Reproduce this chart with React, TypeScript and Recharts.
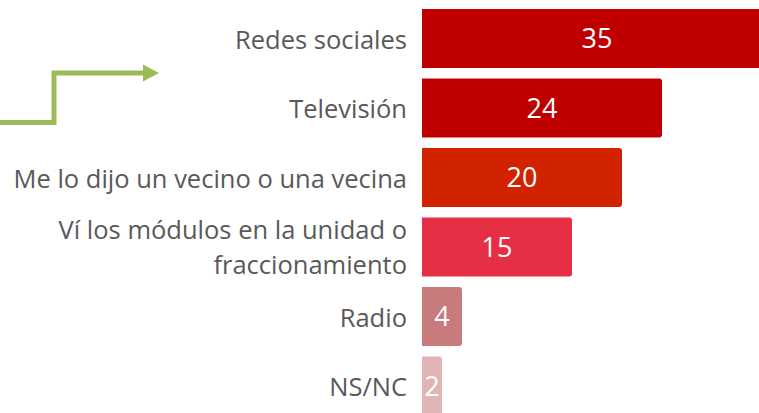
import { Bar, BarChart, Cell, LabelList, XAxis, YAxis } from "recharts"

const categories = [
    "Redes sociales",
    "Televisión",
    "Me lo dijo un vecino o una vecina",
    "Ví los módulos en la unidad o\nfraccionamiento",
    "Radio",
    "NS/NC",
]
const values = [35, 24, 20, 15, 4, 2]
const COLORS = ["#C00000", "#C00000", "#D12300", "#E62E44", "#C97A7A", "#E1B5B5"]

const data = categories.map((name, i) => ({ name, value: values[i] }))

const FONT = "'Open Sans', sans-serif"

// right-aligned category label, wrapped on "\n"
function CategoryTick(props: any) {
    const { x, y, payload } = props
    const lines = String(payload.value).split("\n")
    const first = lines.length === 1 ? 10 : -8
    return (
        <text
            x={x}
            y={y + first}
            textAnchor="end"
            fill="#595959"
            fontSize={25.5}
            fontFamily={FONT}
        >
            {lines.map((line, i) => (
                <tspan key={i} x={x} dy={i === 0 ? 0 : 35}>
                    {line}
                </tspan>
            ))}
        </text>
    )
}

export default function App() {
    return (
        <div
            style={{
                position: "absolute",
                left: 0,
                top: 0,
                width: 759,
                height: 413,
                overflow: "hidden",
                background: "#fff",
            }}
        >
            {/* green step arrow on the left */}
            <svg width={170} height={140} style={{ position: "absolute", left: 0, top: 0 }}>
                <polyline
                    points="0,122.5 54,122.5 54,73 146,73"
                    fill="none"
                    stroke="#9BBB59"
                    strokeWidth={5}
                />
                <polygon points="143,64.5 159,73 143,81.5" fill="#9BBB59" />
            </svg>
            <BarChart
                width={800}
                height={421}
                data={data}
                layout="vertical"
                margin={{ top: 4, right: 0, bottom: 0, left: 0 }}
                style={{ position: "absolute", left: 0, top: 0 }}
            >
                <XAxis type="number" hide domain={[0, 37.8]} />
                <YAxis
                    type="category"
                    dataKey="name"
                    width={422}
                    axisLine={false}
                    tickLine={false}
                    tickSize={0}
                    tickMargin={15}
                    interval={0}
                    tick={<CategoryTick />}
                />
                <Bar dataKey="value" barSize={59} radius={[0, 3, 3, 0]} isAnimationActive={false}>
                    {data.map((_, index) => (
                        <Cell key={`cell-${index}`} fill={COLORS[index]} />
                    ))}
                    <LabelList
                        dataKey="value"
                        position="center"
                        fill="#ffffff"
                        fontSize={27}
                        fontFamily={FONT}
                    />
                </Bar>
            </BarChart>
        </div>
    )
}
